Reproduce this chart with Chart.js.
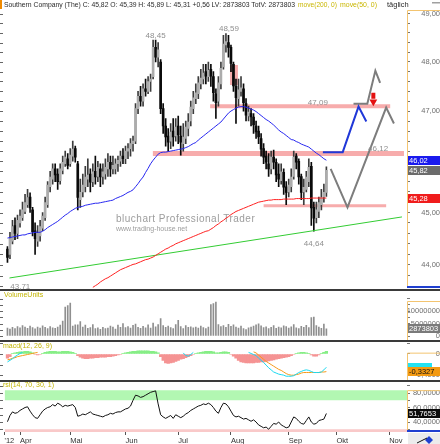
<!DOCTYPE html>
<html lang="de">
<head>
<meta charset="utf-8">
<title>Southern Company (The) – Tageschart</title>
<script src="https://cdn.jsdelivr.net/npm/chart.js@4.4.1/dist/chart.umd.min.js"></script>
<style>
  html, body { margin: 0; padding: 0; background: #fff; }
  canvas { display: block; }
</style>
</head>
<body>
<canvas id="chart" width="440" height="444"></canvas>
<script>
/* Southern Company (The) – Tageschart 2012: Kurs, Volumen, MACD, RSI
   x = Handelstag-Index (0 = 26.03.2012, 127 = 25.09.2012) */

const MONTH_TICKS = [-1.18, 5, 25, 47, 68, 89, 112, 131, 152];
const MONTH_LABELS = ["'12", "Apr", "Mai", "Jun", "Jul", "Aug", "Sep", "Okt", "Nov"];

const OPENS = [
    44.30, 44.20, 44.45, 44.75, 44.60, 44.80, 44.90, 45.02, 45.15, 45.30,
    45.05, 44.65, 44.45, 44.55, 44.70, 44.90, 45.15, 45.50, 45.65, 45.85,
    45.75, 45.62, 45.82, 45.95, 46.05, 45.95, 46.10, 46.25, 45.95, 45.25,
    45.40, 45.50, 45.65, 45.75, 45.60, 45.80, 45.70, 45.85, 45.70, 45.75,
    45.85, 45.98, 45.85, 45.85, 45.95, 46.00, 46.10, 46.05, 46.20, 46.25,
    46.35, 46.40, 47.05, 47.30, 47.20, 47.45, 47.40, 47.60, 47.70, 48.30,
    48.10, 48.00, 47.05, 46.70, 46.50, 46.40, 46.60, 46.50, 46.70, 46.50,
    46.35, 46.45, 46.65, 46.80, 47.05, 47.25, 47.35, 47.55, 47.65, 47.80,
    47.70, 47.85, 47.70, 47.35, 47.20, 47.55, 47.90, 48.35, 48.40, 48.30,
    47.95, 47.50, 47.25, 47.40, 47.45, 47.15, 46.90, 46.95, 46.88, 46.70,
    46.60, 46.45, 46.25, 46.10, 45.95, 45.85, 46.08, 45.98, 45.75, 45.62,
    45.78, 45.50, 45.40, 45.50, 45.70, 46.10, 46.00, 45.70, 45.40, 45.45,
    45.60, 45.90, 45.10, 44.90, 45.02, 45.15, 45.30, 45.39
];
const HIGHS = [
    44.35, 44.62, 44.85, 44.90, 44.95, 45.05, 45.20, 45.35, 45.45, 45.38,
    45.10, 44.80, 44.75, 44.85, 45.00, 45.30, 45.60, 45.80, 45.95, 45.95,
    45.85, 45.95, 46.10, 46.20, 46.15, 46.25, 46.40, 46.30, 46.00, 45.65,
    45.75, 45.90, 46.05, 45.85, 45.95, 46.10, 46.00, 45.95, 45.95, 46.05,
    46.15, 46.10, 46.10, 46.05, 46.10, 46.20, 46.25, 46.30, 46.35, 46.45,
    46.50, 47.15, 47.40, 47.50, 47.55, 47.65, 47.70, 47.75, 48.45, 48.45,
    48.40, 48.05, 47.15, 46.85, 46.65, 46.75, 46.85, 46.85, 46.90, 46.70,
    46.75, 46.80, 46.95, 47.20, 47.40, 47.55, 47.70, 47.85, 47.95, 47.95,
    48.00, 47.95, 47.80, 47.45, 47.70, 48.00, 48.55, 48.59, 48.55, 48.35,
    48.00, 47.65, 47.65, 47.70, 47.55, 47.25, 47.10, 47.05, 46.95, 46.80,
    46.70, 46.55, 46.35, 46.20, 46.15, 46.20, 46.22, 46.05, 45.95, 45.95,
    45.85, 45.60, 45.65, 45.85, 46.20, 46.15, 46.05, 45.75, 45.65, 45.80,
    46.05, 45.98, 45.20, 45.20, 45.30, 45.45, 45.55, 45.89
];
const LOWS = [
    44.05, 44.12, 44.40, 44.48, 44.50, 44.72, 44.85, 44.98, 45.10, 45.00,
    44.55, 44.20, 44.35, 44.45, 44.65, 44.85, 45.10, 45.40, 45.55, 45.60,
    45.45, 45.55, 45.75, 45.90, 45.85, 45.90, 46.00, 45.98, 45.05, 45.10,
    45.30, 45.40, 45.50, 45.40, 45.50, 45.55, 45.60, 45.50, 45.55, 45.65,
    45.70, 45.70, 45.75, 45.75, 45.80, 45.90, 45.95, 45.95, 46.05, 46.10,
    46.20, 46.35, 46.95, 47.10, 47.10, 47.30, 47.35, 47.40, 47.65, 48.00,
    47.90, 46.95, 46.55, 46.30, 46.20, 46.25, 46.30, 46.40, 46.35, 46.12,
    46.20, 46.35, 46.50, 46.70, 46.95, 47.15, 47.25, 47.45, 47.55, 47.55,
    47.60, 47.50, 47.20, 46.85, 47.10, 47.45, 47.85, 48.20, 48.10, 47.80,
    47.40, 46.75, 47.10, 47.30, 47.00, 46.80, 46.80, 46.70, 46.55, 46.45,
    46.35, 46.10, 45.95, 45.85, 45.70, 45.75, 45.85, 45.60, 45.50, 45.55,
    45.35, 45.15, 45.30, 45.40, 45.65, 45.85, 45.55, 45.25, 45.15, 45.40,
    45.50, 44.75, 44.64, 44.80, 44.90, 45.05, 45.20, 45.31
];
const CLOSES = [
    44.14, 44.50, 44.73, 44.60, 44.85, 44.93, 45.05, 45.19, 45.29, 45.09,
    44.63, 44.50, 44.60, 44.73, 44.93, 45.19, 45.53, 45.69, 45.85, 45.73,
    45.60, 45.85, 45.98, 46.08, 45.92, 46.12, 46.24, 46.08, 45.29, 45.39,
    45.53, 45.69, 45.73, 45.59, 45.79, 45.69, 45.88, 45.69, 45.79, 45.88,
    45.98, 45.85, 45.92, 45.95, 46.02, 46.10, 46.05, 46.20, 46.25, 46.35,
    46.40, 47.05, 47.30, 47.20, 47.45, 47.40, 47.60, 47.65, 48.30, 48.10,
    48.25, 47.05, 46.70, 46.48, 46.38, 46.58, 46.48, 46.68, 46.52, 46.38,
    46.48, 46.68, 46.78, 47.08, 47.27, 47.37, 47.57, 47.67, 47.77, 47.71,
    47.83, 47.71, 47.37, 47.17, 47.57, 47.87, 48.37, 48.42, 48.30, 47.97,
    47.51, 47.27, 47.43, 47.47, 47.17, 46.92, 46.98, 46.88, 46.72, 46.58,
    46.48, 46.24, 46.08, 45.98, 45.85, 46.08, 45.98, 45.73, 45.65, 45.79,
    45.49, 45.39, 45.53, 45.69, 46.08, 45.98, 45.69, 45.39, 45.49, 45.69,
    45.88, 45.09, 44.89, 45.05, 45.19, 45.29, 45.39, 45.82
];

// move(50, 0) – blau
const MA50 = [
    44.51, 44.52, 44.53, 44.54, 44.55, 44.56, 44.57, 44.57, 44.59, 44.60,
    44.61, 44.62, 44.62, 44.62, 44.64, 44.67, 44.71, 44.74, 44.77, 44.80,
    44.83, 44.87, 44.91, 44.95, 44.98, 45.02, 45.05, 45.08, 45.10, 45.11,
    45.12, 45.14, 45.15, 45.16, 45.17, 45.18, 45.18, 45.19, 45.20, 45.21,
    45.22, 45.23, 45.24, 45.27, 45.29, 45.31, 45.33, 45.36, 45.39, 45.41,
    45.44, 45.50, 45.56, 45.63, 45.69, 45.78, 45.86, 45.95, 46.02, 46.08,
    46.14, 46.17, 46.18, 46.18, 46.19, 46.20, 46.21, 46.22, 46.23, 46.24,
    46.25, 46.27, 46.29, 46.32, 46.35, 46.37, 46.42, 46.46, 46.50, 46.54,
    46.58, 46.62, 46.66, 46.70, 46.74, 46.78, 46.84, 46.90, 46.96, 47.00,
    47.03, 47.06, 47.08, 47.09, 47.09, 47.08, 47.06, 47.04, 47.02, 46.99,
    46.95, 46.91, 46.87, 46.83, 46.80, 46.76, 46.72, 46.67, 46.62, 46.58,
    46.55, 46.51, 46.47, 46.43, 46.42, 46.39, 46.37, 46.34, 46.32, 46.30,
    46.28, 46.24, 46.20, 46.16, 46.13, 46.09, 46.05, 46.02
];

// move(200, 0) – rot, sichtbar ab Index 34
const MA200_START = 34;
const MA200 = [
    43.58, 43.61, 43.64, 43.68, 43.71, 43.74, 43.76, 43.79, 43.82, 43.85,
    43.88, 43.91, 43.93, 43.95, 43.97, 43.99, 44.01, 44.02, 44.04, 44.06,
    44.08, 44.10, 44.11, 44.13, 44.15, 44.18, 44.21, 44.24, 44.27, 44.30,
    44.32, 44.35, 44.37, 44.40, 44.42, 44.44, 44.46, 44.48, 44.50, 44.52,
    44.54, 44.56, 44.58, 44.60, 44.62, 44.64, 44.65, 44.68, 44.71, 44.75,
    44.78, 44.82, 44.85, 44.89, 44.92, 44.96, 44.99, 45.02, 45.04, 45.06,
    45.08, 45.10, 45.12, 45.14, 45.16, 45.18, 45.20, 45.21, 45.22, 45.23,
    45.24, 45.24, 45.25, 45.25, 45.25, 45.25, 45.26, 45.26, 45.26, 45.26,
    45.26, 45.27, 45.27, 45.27, 45.27, 45.27, 45.27, 45.28, 45.28, 45.28,
    45.28, 45.28, 45.28, 45.28
];

// Volumen in Mio. Stück
const VOLUME = [
    3.2, 2.8, 3.5, 3.0, 3.8, 3.3, 4.2, 3.6, 3.1, 4.0,
    3.4, 2.9, 3.6, 3.2, 4.1, 3.5, 3.0, 3.8, 3.3, 3.1,
    3.6, 4.4, 6.0, 11.6, 12.2, 13.2, 4.0, 4.5, 4.5, 5.8,
    3.6, 4.4, 3.1, 3.4, 4.6, 3.0, 3.3, 2.7, 3.5, 3.0,
    3.2, 4.0, 3.6, 2.8, 4.4, 3.5, 5.0, 3.4, 3.8, 3.2,
    4.3, 4.8, 3.5, 3.1, 3.9, 3.3, 4.5, 3.2, 5.2, 3.7,
    4.6, 7.0, 4.2, 3.5, 4.0, 3.4, 3.0, 4.6, 6.3, 3.8,
    3.0, 4.2, 3.5, 3.7, 3.3, 3.6, 3.2, 4.0, 3.4, 3.0,
    3.6, 12.6, 13.0, 13.6, 4.6, 3.8, 4.2, 3.5, 4.7, 3.9,
    4.5, 3.6, 3.2, 4.0, 3.0, 2.6, 3.3, 3.6, 4.0, 4.5,
    4.9, 4.1, 3.4, 3.7, 3.0, 3.5, 4.2, 3.1, 3.6, 3.3,
    4.1, 3.8, 3.2, 3.7, 4.6, 3.3, 3.0, 3.9, 3.5, 4.3,
    3.4, 7.4, 7.6, 4.2, 3.6, 3.1, 4.8, 2.87
];

// macd(12, 26, 9)
const MACD_HIST = [
    -0.08, -0.05, 0.01, 0.02, 0.03, 0.04, 0.04, 0.05, 0.05, 0.04,
    0.02, -0.01, -0.02, -0.01, 0.01, 0.03, 0.04, 0.05, 0.05, 0.05,
    0.04, 0.04, 0.05, 0.05, 0.05, 0.04, 0.03, 0.01, -0.03, -0.06,
    -0.08, -0.09, -0.09, -0.08, -0.08, -0.07, -0.07, -0.06, -0.06, -0.06,
    -0.05, -0.05, -0.04, -0.03, -0.02, -0.01, 0.01, 0.02, 0.03, 0.04,
    0.05, 0.05, 0.06, 0.06, 0.06, 0.06, 0.06, 0.05, 0.05, 0.04,
    0.02, -0.05, -0.12, -0.17, -0.18, -0.17, -0.16, -0.14, -0.12, -0.10,
    -0.09, -0.07, -0.05, -0.03, -0.01, 0.01, 0.02, 0.03, 0.04, 0.05,
    0.05, 0.05, 0.04, 0.02, 0.02, 0.03, 0.04, 0.04, 0.03, -0.01,
    -0.04, -0.08, -0.12, -0.15, -0.16, -0.17, -0.17, -0.17, -0.17, -0.16,
    -0.16, -0.15, -0.15, -0.14, -0.13, -0.12, -0.11, -0.10, -0.09, -0.08,
    -0.07, -0.06, -0.05, -0.03, -0.01, 0.01, 0.02, 0.03, 0.03, 0.02,
    0.01, -0.02, -0.04, -0.04, -0.02, 0.01, 0.03, 0.05
];
// sichtbare Abschnitte der MACD-Linie (cyan) und der Signallinie (orange)
const MACD_A_START = 0;
const MACD_A = [-0.15, -0.12, -0.09, -0.05, -0.02, 0.01, 0.03];
const MACD_B_START = 70;
const MACD_B = [0.02, -0.03, -0.04, -0.01, 0.03];
const MACD_C_START = 96;
const MACD_C = [
    0.03, 0.01, -0.01, -0.03, -0.08, -0.12, -0.16, -0.21, -0.26, -0.30,
    -0.34, -0.36, -0.38, -0.39, -0.40, -0.42, -0.42, -0.42, -0.41, -0.38,
    -0.35, -0.33, -0.31, -0.30, -0.31, -0.33, -0.35, -0.35, -0.35, -0.34,
    -0.30, -0.25
];
const SIGNAL_A_START = 0;
const SIGNAL_A = [-0.11, -0.10, -0.08, -0.07, -0.05, -0.04, -0.03, -0.02, -0.01, 0.00, 0.01, 0.02, 0.03];
const SIGNAL_B_START = 98;
const SIGNAL_B = [
    0.04, 0.02, -0.02, -0.06, -0.10, -0.14, -0.17, -0.20, -0.23, -0.26,
    -0.29, -0.31, -0.34, -0.37, -0.39, -0.40, -0.40, -0.39, -0.38, -0.36,
    -0.35, -0.35, -0.35, -0.35, -0.35, -0.35, -0.35, -0.34, -0.34, -0.3327
];

// rsi(14, 70, 30, 1)
const RSI = [
    40.4, 49, 54, 52, 53, 56, 58, 60, 61, 55,
    50, 46, 45, 50, 55, 58, 60, 61, 64, 62,
    66, 64, 61, 63, 62, 63, 64, 60, 48, 49,
    51, 50, 52, 54, 51, 50, 49, 48, 47, 49,
    50, 52, 51, 53, 54, 54, 56, 58, 59, 62,
    70, 77, 76, 74, 75, 77, 79, 81, 82, 83,
    65, 50, 47, 45, 47, 49, 45, 50, 48, 46,
    48, 51, 53, 56, 58, 60, 62, 63, 65, 64,
    66, 64, 60, 55, 52, 60, 66, 65, 61, 55,
    49, 47, 48, 46, 44, 45, 43, 41, 43, 40,
    36, 34, 32, 33, 30, 34, 38, 37, 40, 36,
    34, 32, 33, 40, 47, 45, 41, 38, 37, 42,
    47, 40, 37, 38, 42, 43, 44, 51.7653
];
const RSI_UPPER_ZONE = [70, 84];
const RSI_LOWER_ZONE = 30;

// Achsenbeschriftungen
const PRICE_TICKS = [44, 45, 46, 47, 48, 49];
const VOLUME_TICKS = [0, 5, 10];
const MACD_TICKS = [0, -0.4];
const RSI_TICKS = [40, 60, 80];

// Zeichnungen im Kurschart (Index, Kurs)
const TREND_X = [0.8, 157.1];
const TREND_Y = [43.755, 44.915];
const ZONE_FROM = [57.9, 80.7, 102.0];
const ZONE_TO = [157.9, 152.4, 150.8];
const ZONE_PRICE = [46.155, 47.095, 45.13];
const GAP_X = 90.2;
const GAP_Y = [47.53, 47.94];
const SCEN_BLUE_X = [125.6, 133.5, 139.8, 142.9];
const SCEN_BLUE_Y = [46.18, 46.18, 47.09, 46.79];
const SCEN_GRAY1_X = [128.7, 135.4, 150.8, 153.9];
const SCEN_GRAY1_Y = [45.85, 45.10, 47.07, 46.75];
const SCEN_GRAY2_X = [137.8, 143.3, 146.5, 148.4];
const SCEN_GRAY2_Y = [47.15, 47.15, 47.82, 47.57];
const ARROW_X = 145.7;
const ARROW_STEM = [47.25, 47.37];
const ARROW_TIP = 47.19;

const PRICE_LABELS = ["48,45", "48,59", "47,09", "46,12", "44,64", "43,71"];
const PRICE_LABEL_X = [59, 88.2, 123.6, 147.6, 122, 5.1];
const PRICE_LABEL_Y = [48.45, 48.59, 47.09, 46.12, 44.64, 43.71];

const HEADER = "Southern Company (The) C: 45,82 O: 45,39 H: 45,89 L: 45,31 +0,56 LV: 2873803 TotV: 2873803";
const LAST_MA50 = 46.02, LAST_CLOSE = 45.82, LAST_MA200 = 45.28;
const LAST_VOLUME = 2.873803;
const LAST_MACD = -0.25, LAST_SIGNAL = -0.3327;
const LAST_RSI = 51.7653;

/* ---------- Darstellung ---------- */

const FONT = "'Liberation Sans', Arial, sans-serif";
Chart.defaults.font.family = FONT;
Chart.defaults.font.size = 7.5;
Chart.defaults.color = "#6f6f6f";

const X_MIN = -1.18, X_MAX = 159.1;
const LABEL_DY = [-4, -5, -4, -6, 13, 6];
const de = (v, d) => v.toFixed(d).replace(".", ",");
const pts = (xs, ys) => xs.map((x, k) => ({ x, y: ys[k] }));
const seg = (start, vals) => vals.map((y, k) => ({ x: start + k, y }));
const idx = CLOSES.map((_, i) => i);
const isUp = (i) => CLOSES[i] >= OPENS[i];

const priceMinor = [];
for (let v = 43.6; v <= 49.01; v += 0.2) priceMinor.push(Math.round(v * 10) / 10);

// keine zusätzlichen Ränder durch Beschriftungen, feste Achsenbreite
function noPad(s) {
    s.paddingTop = 0; s.paddingBottom = 0; s.paddingLeft = 0; s.paddingRight = 0;
}

function rightAxis(extra) {
    return Object.assign({
        position: "right",
        stack: "panes",
        border: { display: false },
        grid: { drawOnChartArea: false, tickLength: 3, color: "#777" },
        afterFit: (s) => { s.width = 33; noPad(s); },
    }, extra);
}

function line(yAxisID, data, color, width, order, extra) {
    return Object.assign({
        type: "line", yAxisID, data,
        borderColor: color, borderWidth: width,
        pointRadius: 0, tension: 0, order,
        borderCapStyle: "butt",
    }, extra || {});
}

const PINK = "rgba(244,140,140,0.72)";

const datasets = [
    // Kurs
    line("y", pts(SCEN_BLUE_X, SCEN_BLUE_Y), "#2038d8", 2, 0),
    line("y", pts(SCEN_GRAY1_X, SCEN_GRAY1_Y), "#7d7d7d", 2, 0),
    line("y", pts(SCEN_GRAY2_X, SCEN_GRAY2_Y), "#7d7d7d", 2, 0),
    line("y", [{ x: ARROW_X, y: ARROW_STEM[0] }, { x: ARROW_X, y: ARROW_STEM[1] }], "#e41010", 4, 0),
    { type: "scatter", yAxisID: "y", data: [{ x: ARROW_X, y: ARROW_TIP }], pointStyle: "triangle",
      rotation: 180, pointRadius: 4.5, backgroundColor: "#e41010", borderWidth: 0, order: 0 },
    line("y", idx.map((i) => ({ x: i, y: MA50[i] })), "#2727f0", 1, 1),
    line("y", seg(MA200_START, MA200), "#ff2020", 1, 1),
    line("y", pts(TREND_X, TREND_Y), "#33cc33", 1, 1),
    { type: "bar", yAxisID: "y", data: idx.map((i) => ({ x: i, y: [OPENS[i], CLOSES[i]] })),
      backgroundColor: (c) => (isUp(c.dataIndex) ? "#acacac" : "#0a0a0a"),
      barThickness: 2, minBarLength: 1, order: 2 },
    { type: "bar", yAxisID: "y", data: idx.map((i) => ({ x: i, y: [LOWS[i], HIGHS[i]] })),
      backgroundColor: (c) => (isUp(c.dataIndex) ? "#3c3c3c" : "#0a0a0a"),
      barThickness: 1, order: 3 },
    ...ZONE_PRICE.map((p, k) => line("y", [{ x: ZONE_FROM[k], y: p }, { x: ZONE_TO[k], y: p }],
        PINK, [5, 4, 3][k], 4)),
    line("y", [{ x: GAP_X, y: GAP_Y[0] }, { x: GAP_X, y: GAP_Y[1] }], PINK, 8, 4),

    // Volumen
    { type: "bar", yAxisID: "yVol", data: idx.map((i) => ({ x: i, y: VOLUME[i] })),
      backgroundColor: "#8f8f8f", barThickness: 1, order: 2 },

    // MACD
    { type: "bar", yAxisID: "yMacd", data: idx.map((i) => ({ x: i, y: MACD_HIST[i] })),
      backgroundColor: (c) => (MACD_HIST[c.dataIndex] >= 0 ? "#86ee86" : "#f59393"),
      barThickness: 2.6, order: 3 },
    line("yMacd", seg(MACD_A_START, MACD_A), "#19d9f0", 1, 1),
    line("yMacd", seg(MACD_B_START, MACD_B), "#19d9f0", 1, 1),
    line("yMacd", seg(MACD_C_START, MACD_C), "#19d9f0", 1, 1),
    line("yMacd", seg(SIGNAL_A_START, SIGNAL_A), "#f59a1a", 1, 1),
    line("yMacd", seg(SIGNAL_B_START, SIGNAL_B), "#f59a1a", 1, 1),

    // RSI
    line("yRsi", [{ x: X_MIN, y: RSI_UPPER_ZONE[1] }, { x: X_MAX, y: RSI_UPPER_ZONE[1] }], "rgba(0,0,0,0)", 0, 5,
        { fill: { value: RSI_UPPER_ZONE[0] }, backgroundColor: "#b2f7b2" }),
    line("yRsi", [{ x: X_MIN, y: RSI_LOWER_ZONE }, { x: X_MAX, y: RSI_LOWER_ZONE }], "rgba(0,0,0,0)", 0, 5,
        { fill: "start", backgroundColor: "#f9c9c9" }),
    line("yRsi", idx.map((i) => ({ x: i, y: RSI[i] })), "#111", 1, 1),
];

const decor = {
    id: "decor",
    beforeDatasetsDraw(chart) {
        const { ctx } = chart;
        ctx.save();
        ctx.fillStyle = "#9d9d9d";
        ctx.textBaseline = "alphabetic";
        ctx.font = `10px ${FONT}`;
        ctx.letterSpacing = "0.5px";
        ctx.fillText("bluchart Professional Trader", 116, 222);
        ctx.letterSpacing = "0px";
        ctx.font = `7px ${FONT}`;
        ctx.fillText("www.trading-house.net", 116, 231);
        ctx.restore();
    },
    afterDraw(chart) {
        const { ctx } = chart;
        const s = chart.scales;
        const W = chart.width;
        ctx.save();

        // Kopfzeile
        ctx.fillStyle = "#f08a00";
        ctx.fillRect(0, 0, 2, 9);
        ctx.font = `7.5px ${FONT}`;
        ctx.textBaseline = "middle";
        ctx.fillStyle = "#2b2b2b";
        ctx.fillText(HEADER, 4, 5, 291);
        ctx.fillStyle = "#c9b600";
        ctx.fillText("move(200, 0)", 298, 5, 39);
        ctx.fillText("move(50, 0)", 340, 5, 37);
        ctx.fillStyle = "#2b2b2b";
        ctx.fillText("täglich", 387, 5);
        ctx.fillStyle = "#a0a0a0";
        ctx.fillRect(432, 2, 8, 1.5);

        // Trennlinien der Fenster
        ctx.fillStyle = "#3a3a3a";
        [s.y, s.yVol, s.yMacd].forEach((sc) => ctx.fillRect(0, Math.round(sc.bottom) - 1, W, 2));

        // Fenstertitel
        ctx.fillStyle = "#c2b400";
        ctx.font = `7px ${FONT}`;
        ctx.fillText("VolumeUnits", 4, s.yVol.top + 5);
        ctx.fillText("macd(12, 26, 9)", 3, s.yMacd.top + 5.5);
        ctx.fillText("rsi(14, 70, 30, 1)", 3, s.yRsi.top + 4.5);

        // Rahmen an der rechten Achse
        const right = chart.chartArea.right;
        const frame = (top, bottom) => {
            ctx.beginPath();
            ctx.moveTo(W, top + 0.5);
            ctx.lineTo(right + 0.5, top + 0.5);
            ctx.lineTo(right + 0.5, bottom);
            ctx.stroke();
        };
        ctx.strokeStyle = "#f3c470";
        ctx.lineWidth = 1;
        frame(s.y.top - 1, s.y.bottom - 2);
        frame(s.yVol.getPixelForValue(14), s.yVol.bottom - 1);
        frame(s.yMacd.getPixelForValue(0.025), s.yMacd.bottom - 1);
        frame(s.yRsi.getPixelForValue(RSI_UPPER_ZONE[1]), s.yRsi.bottom - 1);
        ctx.fillStyle = "#2040d0";
        ctx.fillRect(right, s.y.bottom - 4, W - right, 2);
        ctx.fillRect(right, s.yRsi.bottom - 2, W - right, 2);

        // kleine Striche am linken Rand
        ctx.fillStyle = "#666";
        [s.y, s.yVol, s.yMacd, s.yRsi].forEach((sc) => {
            sc.ticks.forEach((t) => {
                const y = Math.round(sc.getPixelForValue(t.value));
                ctx.fillRect(0, y, 3, 1);
            });
        });

        // Kursmarken
        ctx.fillStyle = "#8f8f8f";
        ctx.font = `8px ${FONT}`;
        ctx.textAlign = "center";
        PRICE_LABELS.forEach((t, k) => {
            ctx.fillText(t, s.x.getPixelForValue(PRICE_LABEL_X[k]), s.y.getPixelForValue(PRICE_LABEL_Y[k]) + LABEL_DY[k]);
        });

        // Wertfelder an der rechten Achse
        ctx.textAlign = "left";
        ctx.font = `7.5px ${FONT}`;
        const box = (sc, v, text, bg, fg) => {
            const y = sc.getPixelForValue(v);
            ctx.fillStyle = bg;
            ctx.fillRect(right + 1, Math.round(y - 4.5), text ? W - right - 1 : 24, 9);
            if (text) {
                ctx.fillStyle = fg;
                ctx.fillText(text, right + 2, y + 0.5);
            }
        };
        box(s.y, LAST_MA50, de(LAST_MA50, 2), "#1a1aee", "#fff");
        box(s.y, LAST_CLOSE, de(LAST_CLOSE, 2), "#6b6b6b", "#fff");
        box(s.y, LAST_MA200, de(LAST_MA200, 2), "#f01c1c", "#fff");
        box(s.yVol, LAST_VOLUME, String(Math.round(LAST_VOLUME * 1e6)), "#7a7a7a", "#fff");
        box(s.yMacd, LAST_MACD, "", "#22e2f2", "#000");
        box(s.yMacd, LAST_SIGNAL, de(LAST_SIGNAL, 4), "#f39a12", "#111");
        box(s.yRsi, LAST_RSI, de(LAST_RSI, 4), "#0a0a0a", "#fff");

        // Feld unten rechts
        const bTop = s.yRsi.bottom + 1;
        ctx.fillStyle = "#ececec";
        ctx.fillRect(right + 1, bTop, W - right - 1, chart.height - bTop);
        ctx.fillStyle = "#2040d0";
        ctx.beginPath();
        ctx.moveTo(right + 22, bTop + 3);
        ctx.lineTo(right + 26, bTop + 7);
        ctx.lineTo(right + 22, bTop + 11);
        ctx.lineTo(right + 18, bTop + 7);
        ctx.fill();
        ctx.strokeStyle = "#111";
        ctx.beginPath();
        ctx.moveTo(right + 10, bTop + 10);
        ctx.lineTo(right + 20, bTop + 5);
        ctx.stroke();

        ctx.restore();
    },
};

new Chart(document.getElementById("chart"), {
    type: "bar",
    data: { datasets },
    options: {
        responsive: false,
        animation: false,
        events: [],
        layout: { padding: { top: 11, left: 0, right: 0, bottom: 0 } },
        datasets: { bar: { grouped: false, borderWidth: 0 } },
        plugins: { legend: { display: false }, tooltip: { enabled: false } },
        scales: {
            x: {
                type: "linear",
                min: X_MIN,
                max: X_MAX,
                offset: false,
                border: { display: false },
                grid: { drawOnChartArea: false, offset: false, tickLength: 3, color: "#555" },
                afterBuildTicks: (s) => { s.ticks = MONTH_TICKS.map((value) => ({ value })); },
                ticks: {
                    autoSkip: false, maxRotation: 0, align: "start", padding: 1, color: "#333",
                    callback: (v, i) => MONTH_LABELS[i],
                },
                afterFit: (s) => { s.height = 12; noPad(s); },
            },
            y: rightAxis({
                type: "logarithmic", stackWeight: 279, min: 43.53, max: 49.06,
                afterBuildTicks: (s) => { s.ticks = priceMinor.map((value) => ({ value })); },
                ticks: { autoSkip: false, crossAlign: "far", padding: 12.2,
                         callback: (v) => (PRICE_TICKS.includes(v) ? de(v, 2) : "") },
            }),
            yVol: rightAxis({
                type: "linear", stackWeight: 51, min: -2, max: 18.4,
                afterBuildTicks: (s) => { s.ticks = [0, 2.5, 5, 7.5, 10, 12.5, 15].map((value) => ({ value })); },
                ticks: { autoSkip: false, crossAlign: "far", padding: -2.4,
                         callback: (v) => (VOLUME_TICKS.includes(v) ? String(v * 1000000) : "") },
            }),
            yMacd: rightAxis({
                type: "linear", stackWeight: 40, min: -0.51, max: 0.245,
                afterBuildTicks: (s) => { s.ticks = [0.2, 0, -0.2, -0.4].map((value) => ({ value })); },
                ticks: { autoSkip: false, crossAlign: "far", padding: 3.7,
                         callback: (v) => (MACD_TICKS.includes(v) ? (v === 0 ? "0" : de(v, 4)) : "") },
            }),
            yRsi: rightAxis({
                type: "linear", stackWeight: 51, min: 26.2, max: 96.6,
                afterBuildTicks: (s) => { s.ticks = [30, 40, 50, 60, 70, 80, 90].map((value) => ({ value })); },
                ticks: { autoSkip: false, crossAlign: "far", padding: 3.9,
                         callback: (v) => (RSI_TICKS.includes(v) ? de(v, 4) : "") },
            }),
        },
    },
    plugins: [decor],
});
</script>
</body>
</html>
